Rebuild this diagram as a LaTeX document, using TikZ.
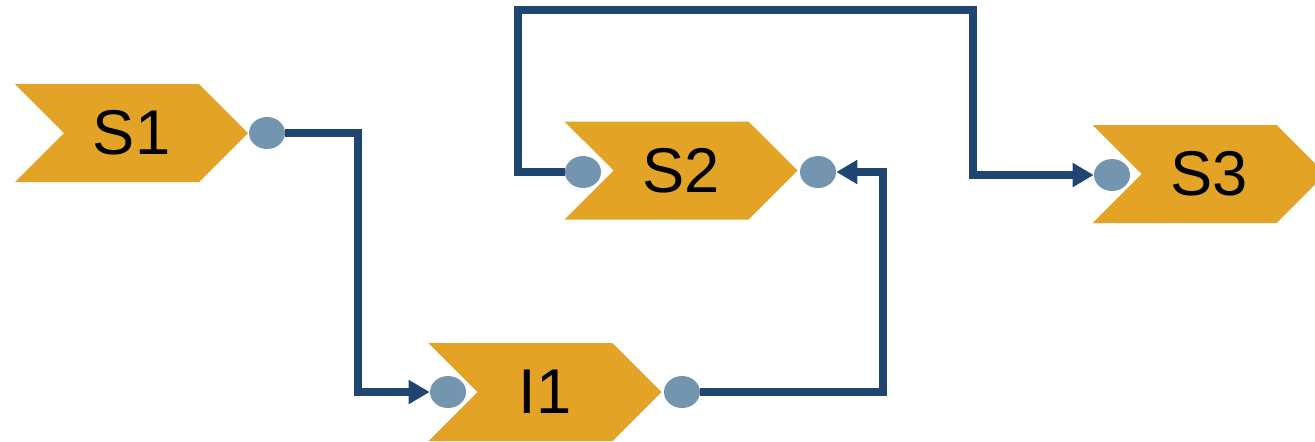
\documentclass[tikz,border=0pt]{standalone}
\usepackage{fontspec}
\setmainfont{Liberation Sans}
\usepackage{xcolor}
\usepackage{tikz}
\usetikzlibrary{shapes.symbols, shapes.geometric, arrows.meta, positioning}
\definecolor{stepgold}{HTML}{E2A326}
\definecolor{portblue}{HTML}{7495AF}
\definecolor{linkblue}{HTML}{1F4570}
\tikzstyle{stage} = [signal, signal from=west, signal to=east, signal pointer angle=90, minimum width=4.66cm, minimum height=1.96cm, inner sep=0pt, fill=stepgold, draw=none, text=black, font=\fontsize{36}{42}\selectfont]
\tikzstyle{port} = [ellipse, minimum width=0.72cm, minimum height=0.64cm, inner sep=0pt, fill=portblue, draw=none]
\tikzstyle{link} = [line width=0.15cm, draw=linkblue, -{Triangle[length=0.42cm, width=0.46cm]}]

\begin{document}
\begin{tikzpicture}
    \useasboundingbox (0,0) rectangle (26.3,-8.82);
    % Nodes
    \node (S1) [stage] at (2.63,-2.66) {S1};
    \node (S2) [stage] at (13.62,-3.41) {S2};
    \node (I1) [stage] at (10.9,-7.84) {I1};
    \node (S3) [stage] at (24.18,-3.48) {S3};

    % Ports
    \node (S1out) [port] at (5.34,-2.66) {};
    \node (S2in) [port] at (11.66,-3.44) {};
    \node (S2out) [port] at (16.36,-3.44) {};
    \node (I1in) [port] at (8.96,-7.84) {};
    \node (I1out) [port] at (13.64,-7.84) {};
    \node (S3in) [port] at (22.24,-3.5) {};

    % Bends
    \coordinate (b1) at (7.16,0);
    \coordinate (b2) at (17.66,0);
    \coordinate (b3) at (10.36,-0.2);
    \coordinate (b4) at (19.46,-0.2);

    % Arrows
    \draw [link] (S1out) -- (S1out -| b1) -- (b1 |- I1in) -- (I1in);
    \draw [link] (I1out) -- (I1out -| b2) -- (b2 |- S2out) -- (S2out);
    \draw [link] (S2in) -- (S2in -| b3) -- (b3) -- (b4) -- (b4 |- S3in) -- (S3in);
\end{tikzpicture}
\end{document}
